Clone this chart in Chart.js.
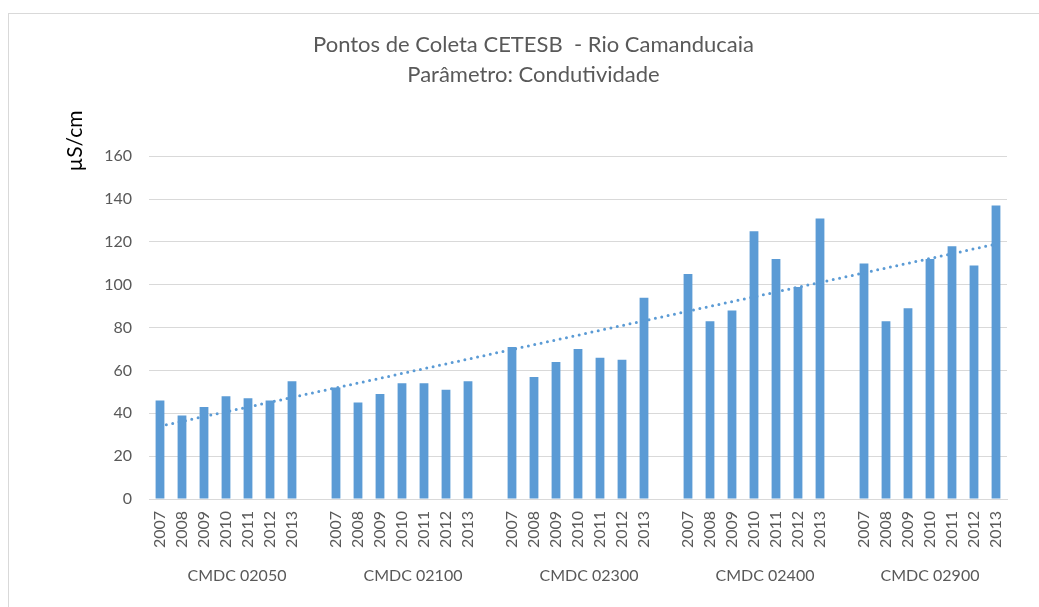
<!DOCTYPE html>
<html>
<head>
<meta charset="utf-8">
<script src="https://cdn.jsdelivr.net/npm/chart.js@4.4.1/dist/chart.umd.min.js"></script>
<style>
  body { margin: 0; background: #fff; }
  #wrap { position: relative; width: 1039px; height: 607px; }
  #frame { position: absolute; left: 8px; top: 13px; width: 1100px; height: 700px; border: 1px solid #d9d9d9; }
  #myChart { position: absolute; left: 0; top: 0; }
</style>
</head>
<body>
<div id="wrap">
  <div id="frame"></div>
  <canvas id="myChart" width="1039" height="607"></canvas>
</div>
<script>
const groups = ["CMDC 02050", "CMDC 02100", "CMDC 02300", "CMDC 02400", "CMDC 02900"];
const years = ["2007", "2008", "2009", "2010", "2011", "2012", "2013"];
const cmdc02050 = [46, 39, 43, 48, 47, 46, 55];
const cmdc02100 = [52, 45, 49, 54, 54, 51, 55];
const cmdc02300 = [71, 57, 64, 70, 66, 65, 94];
const cmdc02400 = [105, 83, 88, 125, 112, 99, 131];
const cmdc02900 = [110, 83, 89, 112, 118, 109, 137];
const trendStart = 34;
const trendEnd = 119;
const yTicks = [0, 20, 40, 60, 80, 100, 120, 140, 160];

const series = [cmdc02050, cmdc02100, cmdc02300, cmdc02400, cmdc02900];
const labels = [];
const values = [];
series.forEach(function (s, g) {
    if (g > 0) { labels.push(""); values.push(null); }
    years.forEach(function (y, i) { labels.push(y); values.push(s[i]); });
});
const trend = labels.map(function () { return null; });
trend[0] = trendStart;
trend[trend.length - 1] = trendEnd;

const FONT = "Lato, 'Open Sans', sans-serif";
const GREY = "#595959";

const extras = {
    id: "extras",
    afterDraw: function (chart) {
        const ctx = chart.ctx;
        const x = chart.scales.x;
        ctx.save();
        ctx.fillStyle = GREY;
        ctx.font = "16px " + FONT;
        ctx.textAlign = "center";
        ctx.textBaseline = "middle";
        groups.forEach(function (name, g) {
            const first = g * 8;
            const last = Math.min(first + 7, labels.length - 1);
            ctx.fillText(name, (x.getPixelForValue(first) + x.getPixelForValue(last)) / 2, 576);
        });
        ctx.translate(75, 141);
        ctx.rotate(-Math.PI / 2);
        ctx.font = "21px " + FONT;
        ctx.fillStyle = "#000";
        ctx.fillText("\u00b5S/cm", 0, 0);
        ctx.restore();
    }
};

new Chart(document.getElementById("myChart"), {
    data: {
        labels: labels,
        datasets: [
            {
                type: "line",
                data: trend,
                spanGaps: true,
                borderColor: "#5B9BD5",
                borderWidth: 3,
                borderDash: [0, 6.5],
                borderCapStyle: "round",
                pointRadius: 0,
                order: 0
            },
            {
                type: "bar",
                data: values,
                backgroundColor: "#5B9BD5",
                barPercentage: 0.4,
                categoryPercentage: 1,
                order: 1
            }
        ]
    },
    plugins: [extras],
    options: {
        responsive: false,
        animation: false,
        layout: { padding: { left: 60, right: 32, top: 0, bottom: 0 } },
        plugins: {
            legend: { display: false },
            tooltip: { enabled: false },
            title: {
                display: true,
                text: ["Pontos de Coleta CETESB  - Rio Camanducaia", "Par\u00e2metro: Condutividade"],
                color: GREY,
                font: { family: FONT, size: 22, weight: "normal", lineHeight: 1.37 },
                padding: { top: 30, bottom: 66 }
            }
        },
        scales: {
            x: {
                offset: true,
                grid: { display: false, drawTicks: false },
                border: { color: "#d9d9d9" },
                ticks: {
                    autoSkip: false, minRotation: 90, maxRotation: 90, padding: 12,
                    color: GREY, font: { family: FONT, size: 16 }
                },
                afterFit: function (s) { s.height = 108; }
            },
            y: {
                min: 0,
                max: 160,
                afterBuildTicks: function (s) { s.ticks = yTicks.map(function (v) { return { value: v }; }); },
                grid: { color: "#d9d9d9", drawTicks: false },
                border: { display: false },
                ticks: { padding: 17, color: GREY, font: { family: FONT, size: 16 } },
                afterFit: function (s) { s.width = 89; }
            }
        }
    }
});
</script>
</body>
</html>
